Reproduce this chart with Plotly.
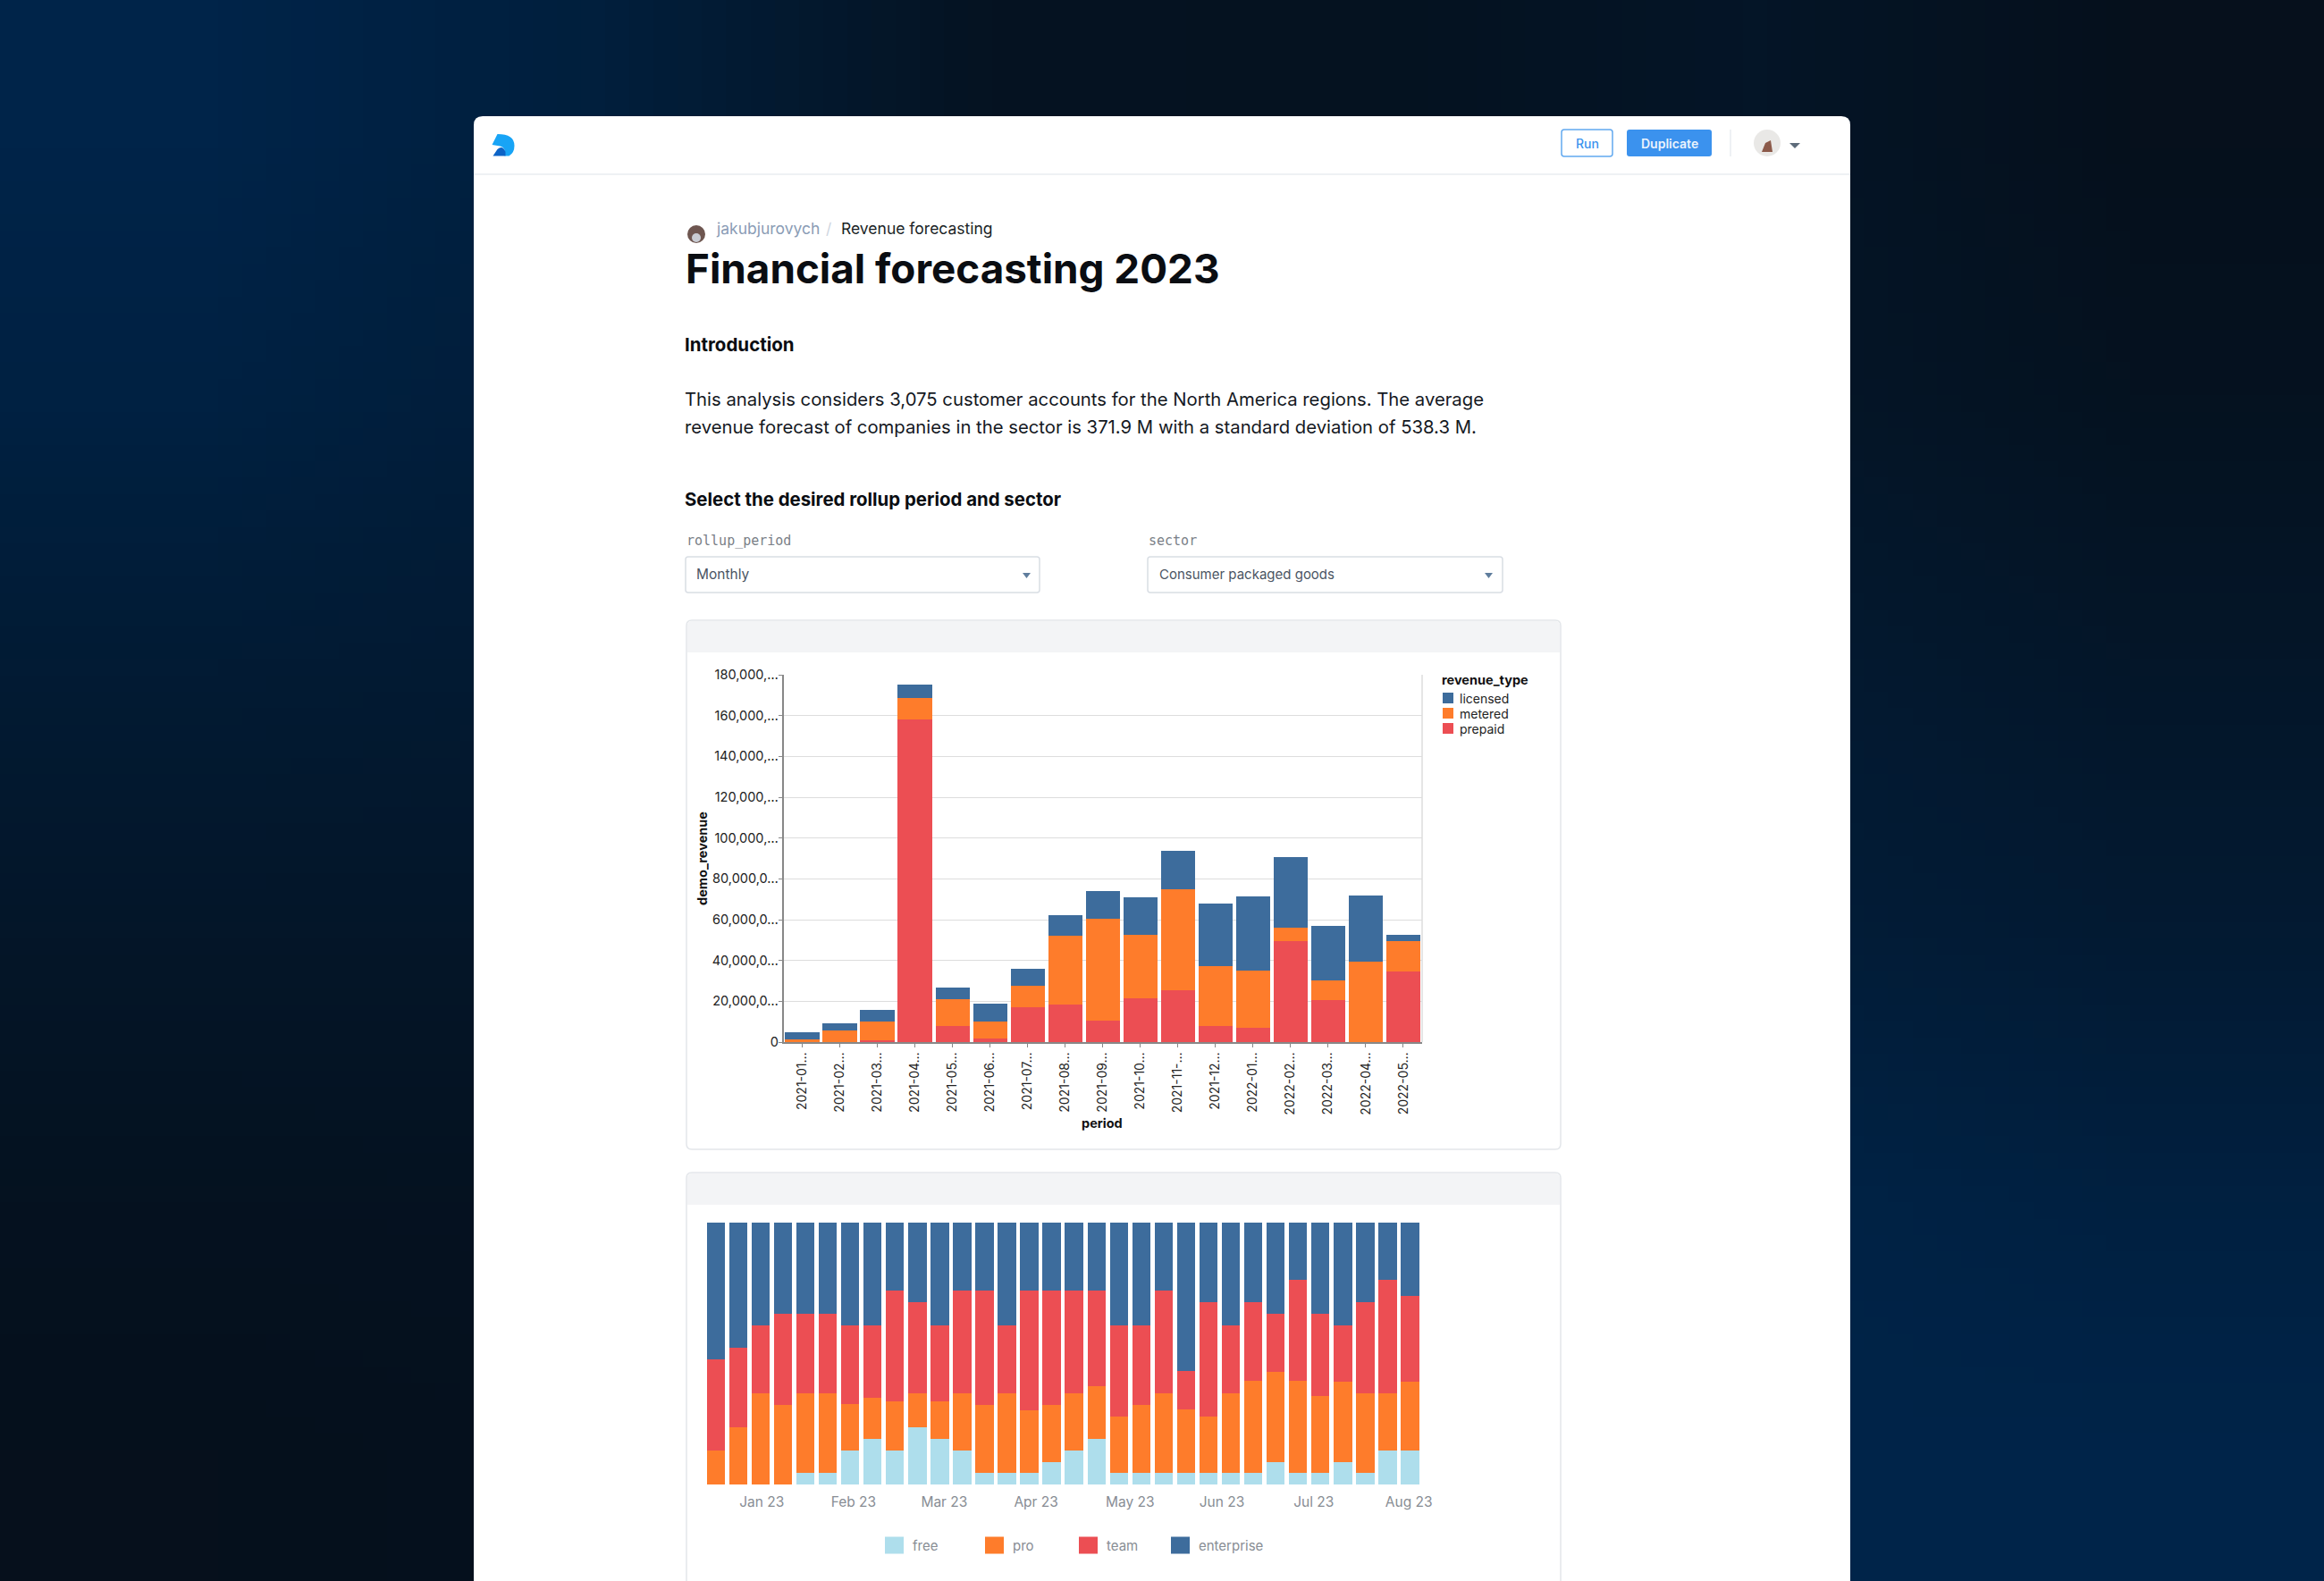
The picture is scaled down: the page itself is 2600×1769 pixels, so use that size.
import base64
import struct
import zlib

import plotly.graph_objects as go

W, H = 2600, 1769
FONT = "Inter"

# top chart: monthly revenue, values in millions
periods = ["2021-01…", "2021-02…", "2021-03…", "2021-04…", "2021-05…", "2021-06…",
           "2021-07…", "2021-08…", "2021-09…", "2021-10…", "2021-11-…", "2021-12…",
           "2022-01…", "2022-02…", "2022-03…", "2022-04…", "2022-05…"]
prepaid = [0.2, 0.1, 1.0, 158.0, 8.0, 1.8, 17.3, 18.5, 10.7, 21.3, 25.5, 8.0, 7.2, 49.3, 20.5, 0, 34.4]
metered = [1.0, 5.8, 9.2, 10.6, 12.9, 8.4, 10.4, 33.5, 49.7, 31.2, 49.3, 29.2, 27.7, 6.7, 9.9, 39.4, 14.9]
licensed = [3.5, 3.3, 5.4, 6.6, 6.0, 8.8, 8.2, 10.4, 13.8, 18.3, 19.0, 30.9, 36.4, 34.8, 26.5, 32.4, 3.4]
rev_ticks = [0, 20, 40, 60, 80, 100, 120, 140, 160, 180]
rev_tick_text = ["0", "20,000,0…", "40,000,0…", "60,000,0…", "80,000,0…", "100,000,…",
                 "120,000,…", "140,000,…", "160,000,…", "180,000,…"]

# bottom chart: weekly plan mix, each column adds up to 23
weeks = list(range(32))
free = [0, 0, 0, 0, 1, 1, 3, 4, 3, 5, 4, 3, 1, 1, 1, 2, 3, 4, 1, 1, 1, 1, 1, 1, 1, 2, 1, 1, 2, 1, 3, 3]
pro = [3, 5, 8, 7, 7, 7, 4.1, 3.6, 4.3, 3, 3.3, 5, 6, 7, 5.5, 5, 5, 4.6, 5, 6, 7, 5.6, 5, 7, 8.1, 7.9, 8.1, 6.8, 7, 7, 5, 6]
team = [8, 7, 6, 8, 7, 7, 6.9, 6.4, 9.7, 8, 6.7, 9, 10, 6, 10.5, 10, 9, 8.4, 8, 7, 9, 3.4, 10, 6, 6.9, 5.1, 8.9, 7.2, 5, 8, 10, 7.6]
enterprise = [12, 11, 9, 8, 8, 8, 9, 9, 6, 7, 9, 6, 6, 9, 6, 6, 6, 6, 9, 9, 6, 13, 7, 9, 7, 8, 5, 8, 9, 7, 5, 6.4]
month_ticks = [2.05, 6.15, 10.2, 14.3, 18.5, 22.6, 26.7, 30.95]
month_labels = ["Jan 23", "Feb 23", "Mar 23", "Apr 23", "May 23", "Jun 23", "Jul 23", "Aug 23"]

BLUE, ORANGE, RED, LIGHT = "#3d6c9c", "#fe7c2b", "#ec4e53", "#aedeec"

# page background, how blue it is at a coarse grid of points (0 dark, 1 navy)
glow = [
    [1.00, 0.75, 0.15, 0.10, 0.25, 0.00],
    [0.85, 0.65, 0.30, 0.20, 0.30, 0.10],
    [0.55, 0.50, 0.40, 0.40, 0.50, 0.30],
    [0.30, 0.30, 0.40, 0.50, 0.65, 0.50],
    [0.10, 0.12, 0.30, 0.50, 0.95, 0.80],
    [0.00, 0.05, 0.30, 0.60, 1.00, 1.00],
]


def glow_png(rows):
    dark, navy = (6, 16, 28), (0, 36, 73)
    raw = b""
    for row in rows:
        raw += b"\x00"
        for g in row:
            raw += bytes(int(d + (n - d) * g) for d, n in zip(dark, navy))

    def chunk(tag, data):
        return struct.pack(">I", len(data)) + tag + data + struct.pack(">I", zlib.crc32(tag + data))

    png = b"\x89PNG\r\n\x1a\n"
    png += chunk(b"IHDR", struct.pack(">IIBBBBB", len(rows[0]), len(rows), 8, 2, 0, 0, 0))
    png += chunk(b"IDAT", zlib.compress(raw))
    png += chunk(b"IEND", b"")
    return "data:image/png;base64," + base64.b64encode(png).decode()


def fx(x):
    return x / W


def fy(y):
    return 1 - y / H


def pt(x, y):
    return f"{fx(x)},{fy(y)}"


def rrect(x0, y0, x1, y1, r, square_bottom=False):
    p = f"M{pt(x0 + r, y0)} L{pt(x1 - r, y0)} Q{pt(x1, y0)} {pt(x1, y0 + r)} "
    if square_bottom:
        p += f"L{pt(x1, y1)} L{pt(x0, y1)} "
    else:
        p += f"L{pt(x1, y1 - r)} Q{pt(x1, y1)} {pt(x1 - r, y1)} L{pt(x0 + r, y1)} Q{pt(x0, y1)} {pt(x0, y1 - r)} "
    p += f"L{pt(x0, y0 + r)} Q{pt(x0, y0)} {pt(x0 + r, y0)} Z"
    return p


shapes = []
annotations = []


def box(x0, y0, x1, y1, r, fill, line=None, width=1, square_bottom=False):
    shapes.append(dict(type="path", path=rrect(x0, y0, x1, y1, r, square_bottom), xref="paper", yref="paper",
                       fillcolor=fill, line=dict(color=line or fill, width=width if line else 0), layer="below"))


def rule(x0, y0, x1, y1, color):
    shapes.append(dict(type="line", x0=fx(x0), x1=fx(x1), y0=fy(y0), y1=fy(y1), xref="paper", yref="paper",
                       line=dict(color=color, width=1.5), layer="below"))


def disc(cx, cy, r, fill):
    shapes.append(dict(type="circle", x0=fx(cx - r), x1=fx(cx + r), y0=fy(cy + r), y1=fy(cy - r),
                       xref="paper", yref="paper", fillcolor=fill, line=dict(width=0), layer="below"))


def poly(points, fill):
    path = "M" + " L".join(pt(x, y) for x, y in points) + " Z"
    shapes.append(dict(type="path", path=path, xref="paper", yref="paper", fillcolor=fill,
                       line=dict(width=0), layer="below"))


def label(x, y, text, size, color="#111827", weight=400, anchor="left", family=FONT, angle=0):
    annotations.append(dict(x=fx(x), y=fy(y), text=text, xref="paper", yref="paper", showarrow=False,
                            xanchor=anchor, yanchor="middle", borderpad=0, textangle=angle,
                            font=dict(family=family, size=size, color=color, weight=weight)))


# page card and top bar
box(530, 130, 2070, H + 10, 10, "#ffffff", square_bottom=True)
rule(530, 195, 2070, 195, "#e8ecf1")

# logo
shapes.append(dict(type="path", xref="paper", yref="paper", fillcolor="#18a4f6", line=dict(width=0), layer="below",
                   path=f"M{pt(556.5, 150)} Q{pt(575.5, 150)} {pt(575.5, 163)} Q{pt(575.5, 171)} {pt(569.5, 174.5)} "
                        f"L{pt(564.5, 174.5)} Q{pt(566.5, 165)} {pt(559.5, 163.5)} L{pt(550.5, 162)} Z"))
shapes.append(dict(type="path", xref="paper", yref="paper", fillcolor="#0c63c6", line=dict(width=0), layer="below",
                   path=f"M{pt(551.5, 174.5)} L{pt(556.5, 167)} Q{pt(562.5, 162)} {pt(565.5, 170)} L{pt(565.5, 174.5)} Z"))

box(1747, 145, 1804, 175, 3, "#ffffff", "#62a9f0", 1.5)
label(1775.5, 160, "Run", 14, "#3c93ee", 500, "center")
box(1820, 145, 1915, 175, 3, "#3b92ee")
label(1867.5, 160, "Duplicate", 14, "#eaf3fd", 600, "center")
rule(1936, 145, 1936, 175, "#e8ecf1")
disc(1977, 160, 15, "#e9e8e6")
poly([(1971, 170), (1975, 160), (1981, 157), (1983, 170)], "#8c5a4a")
poly([(2002, 160), (2014, 160), (2008, 166)], "#5d6b7a")

# breadcrumb and headings
disc(779, 262, 10, "#6e5650")
disc(779, 266, 5, "#c9ccd3")
label(800, 256, "jakubjurovych", 17.5, "#8a9cb5")
label(927, 256, "/", 17.5, "#cfd6df", anchor="center")
label(939.5, 256, "Revenue forecasting", 17.5, "#1a1f26")
label(765.5, 300, "Financial forecasting 2023", 45.8, "#0a0d12", 700)
label(765.5, 385, "Introduction", 20.5, "#0a0d12", 700)
label(765, 447, "This analysis considers 3,075 customer accounts for the North America regions. The average", 20.3, "#15191f")
label(765, 477, "revenue forecast of companies in the sector is 371.9 M with a standard deviation of 538.3 M.", 20.3, "#15191f")
label(765.5, 558, "Select the desired rollup period and sector", 20.4, "#0a0d12", 700)

# inputs
label(767, 605, "rollup_period", 15, "#7a7f87", family="DejaVu Sans Mono")
label(1284, 605, "sector", 15, "#7a7f87", family="DejaVu Sans Mono")
box(767, 623, 1163, 663, 3, "#ffffff", "#d9dee4", 1.5)
box(1284, 623, 1681, 663, 3, "#ffffff", "#d9dee4", 1.5)
label(778, 643, "Monthly", 15.5, "#4b5563")
label(1296, 643, "Consumer packaged goods", 15, "#4b5563")
poly([(1144, 641), (1153, 641), (1148.5, 647)], "#5f7d9d")
poly([(1661, 641), (1670, 641), (1665.5, 647)], "#5f7d9d")

# chart cards with their grey header bands
box(768, 694, 1746, 1286, 6, "#ffffff", "#e3e6ea", 1.5)
box(769, 695, 1745, 730, 5, "#f3f4f6", square_bottom=True)
box(768, 1312, 1746, H + 20, 6, "#ffffff", "#e3e6ea", 1.5, square_bottom=True)
box(769, 1313, 1745, 1348, 5, "#f3f4f6", square_bottom=True)

# right edge of the top plot
rule(1591, 755, 1591, 1166, "#dddddd")

# axis titles of the top chart
label(785, 961, "demo_revenue", 14.5, "#111111", 700, "center", angle=-90)
label(1233, 1256, "period", 14.5, "#111111", 700, "center")

# legends
label(1612, 761, "revenue_type", 14.5, "#111111", 700)
for y, name, color in zip([781, 798, 815], ["licensed", "metered", "prepaid"], [BLUE, ORANGE, RED]):
    box(1614, y - 6, 1626, y + 6, 0, color)
    label(1632, y, name, 14, "#222222")
for x, name, color in zip([990, 1102, 1207, 1310], ["free", "pro", "team", "enterprise"], [LIGHT, ORANGE, RED, BLUE]):
    box(x, 1719.5, x + 21, 1738.5, 0, color)
    label(x + 30, 1729, name, 15, "#888d94")

fig = go.Figure()

for name, vals, color in [("prepaid", prepaid, RED), ("metered", metered, ORANGE), ("licensed", licensed, BLUE)]:
    fig.add_trace(go.Bar(x=periods, y=vals, name=name, marker=dict(color=color, line=dict(width=0)),
                         xaxis="x", yaxis="y", showlegend=False))

for name, vals, color in [("free", free, LIGHT), ("pro", pro, ORANGE), ("team", team, RED), ("enterprise", enterprise, BLUE)]:
    fig.add_trace(go.Bar(x=weeks, y=vals, name=name, marker=dict(color=color, line=dict(width=0)),
                         xaxis="x2", yaxis="y2", showlegend=False, width=0.815))

tick_font = dict(family=FONT, size=14.5, color="#222222")

fig.update_layout(
    width=W, height=H, autosize=False,
    margin=dict(l=0, r=0, t=0, b=0, pad=0),
    paper_bgcolor="#06101c", plot_bgcolor="rgba(0,0,0,0)",
    barmode="stack", bargap=0.09,
    showlegend=False,
    shapes=shapes, annotations=annotations,
    images=[dict(source=glow_png(glow), xref="paper", yref="paper", x=0, y=1, sizex=1, sizey=1,
                 sizing="stretch", xanchor="left", yanchor="top", layer="below")],
    xaxis=dict(domain=[fx(876.5), fx(1591)], anchor="y", type="category", categoryorder="array", automargin=False,
               categoryarray=periods, tickangle=-90, tickfont=dict(family=FONT, size=14, color="#222222"),
               ticks="outside", ticklen=4, tickcolor="#888888", showline=True, linecolor="#888888", linewidth=1.5,
               showgrid=False),
    yaxis=dict(domain=[fy(1166), fy(755)], anchor="x", range=[0, 180], tickvals=rev_ticks, ticktext=rev_tick_text,
               automargin=False, tickfont=tick_font, ticks="outside", ticklen=4, ticklabelstandoff=-3,
               tickcolor="#888888", showline=True, linecolor="#888888", linewidth=1.5, gridcolor="#dddddd",
               gridwidth=1, zeroline=False),
    xaxis2=dict(domain=[fx(788.3), fx(1590)], anchor="y2", range=[-0.5, 31.5], tickvals=month_ticks, automargin=False,
                ticktext=month_labels, tickangle=0, tickfont=dict(family=FONT, size=15.5, color="#888d94"),
                ticks="outside", ticklen=5, tickcolor="rgba(0,0,0,0)", showline=False, showgrid=False, zeroline=False),
    yaxis2=dict(domain=[fy(1661), fy(1368)], anchor="x2", range=[0, 23], visible=False, automargin=False),
)

# the browser's default body margin would push the figure off the page
fig.write_html("out.html", config={"displayModeBar": False}, post_script="document.body.style.margin = '0';")
